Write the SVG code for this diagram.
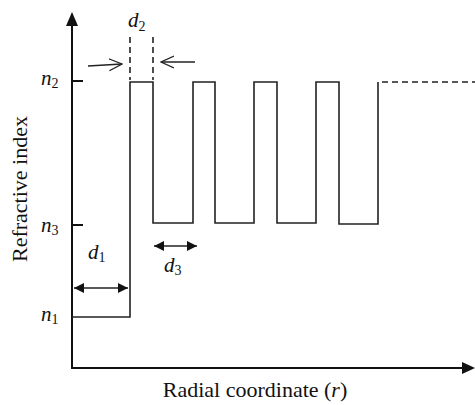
<svg xmlns="http://www.w3.org/2000/svg" width="475" height="405" viewBox="0 0 475 405">
<defs>
<style>
.t{font-family:"Liberation Serif","Times New Roman",serif;fill:#111;font-size:22px}
.i{font-style:italic;font-size:21px}
.s{font-size:14px;font-style:normal}
.ax{stroke:#111;stroke-width:2;fill:none}
.pr{stroke:#222;stroke-width:1.6;fill:none}
.da{stroke:#222;stroke-width:1.6;fill:none;stroke-dasharray:6,4}
.ar{stroke:#222;stroke-width:1.3;fill:none}
</style>
<marker id="fa" viewBox="0 0 10 10" refX="10" refY="5" markerWidth="10" markerHeight="10" markerUnits="userSpaceOnUse" orient="auto-start-reverse"><path d="M0,0 L10,5 L0,10 z" fill="#111"/></marker>
<marker id="oa" viewBox="0 0 14 14" refX="13" refY="7" markerWidth="14" markerHeight="14" markerUnits="userSpaceOnUse" orient="auto"><path d="M0,1 L13,7 L0,13" fill="none" stroke="#222" stroke-width="1.3"/></marker>
</defs>
<g id="axes">
<line class="ax" x1="72" y1="368" x2="72" y2="24"/>
<path d="M66,26 L72,12 L78,26 z" fill="#111"/>
<line class="ax" x1="71" y1="368" x2="464" y2="368"/>
<path d="M462,362 L475,368 L462,374 z" fill="#111"/>
<line class="ax" x1="72" y1="81" x2="83" y2="81"/>
<line class="ax" x1="72" y1="225" x2="83" y2="225"/>
</g>
<g id="profile">
<path class="pr" d="M72,317 H130 V82 H153 V223 H193 V82 H215 V223 H254 V82 H277 V223 H316 V82 H339 V224 H378 V82"/>
<line class="da" x1="382" y1="82" x2="475" y2="82"/>
</g>
<g id="connectors">
<line class="da" x1="130" y1="37" x2="130" y2="80"/>
<line class="da" x1="153" y1="37" x2="153" y2="80"/>
<line class="ar" x1="88" y1="66" x2="122" y2="64" marker-end="url(#oa)"/>
<line class="ar" x1="195" y1="62" x2="161" y2="62" marker-end="url(#oa)"/>
<line class="ar" x1="74" y1="288" x2="128" y2="288" stroke-width="1.6" marker-start="url(#fa)" marker-end="url(#fa)"/>
<line class="ar" x1="154" y1="246" x2="197" y2="246" stroke-width="1.6" marker-start="url(#fa)" marker-end="url(#fa)"/>
</g>
<g id="labels">
<text class="t i" x="128" y="27">d<tspan class="s" dy="4">2</tspan></text>
<text class="t i" x="41" y="85">n<tspan class="s" dy="3">2</tspan></text>
<text class="t i" x="41" y="232">n<tspan class="s" dy="3">3</tspan></text>
<text class="t i" x="41" y="321">n<tspan class="s" dy="3">1</tspan></text>
<text class="t i" x="88" y="259">d<tspan class="s" dy="3">1</tspan></text>
<text class="t i" x="164" y="272">d<tspan class="s" dy="3">3</tspan></text>
<text class="t" x="0" y="0" text-anchor="middle" transform="translate(27,189) rotate(-90)">Refractive index</text>
<text class="t" x="255" y="397" text-anchor="middle">Radial coordinate (<tspan class="i" style="font-size:22px">r</tspan>)</text>
</g>
</svg>
